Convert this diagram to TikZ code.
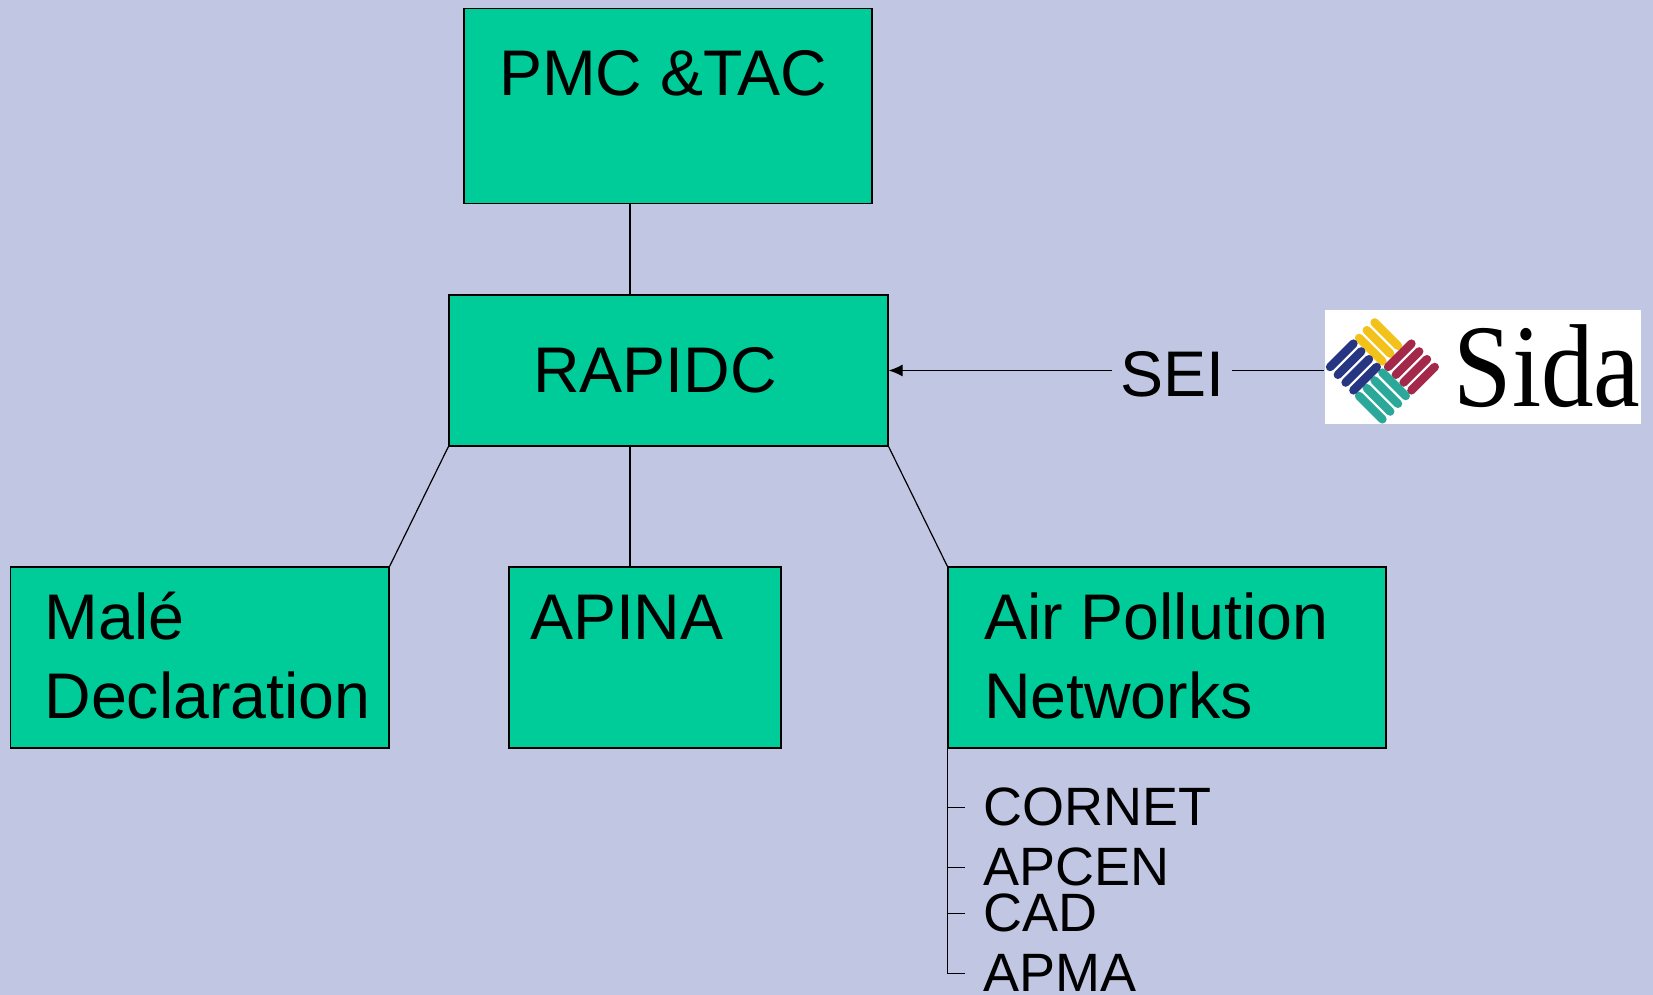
\documentclass[tikz,border=0pt]{standalone}
\usepackage{fontspec}
\usepackage{graphicx}
\setmainfont{Liberation Sans}
\newfontfamily\sidafont{Liberation Serif}
\usetikzlibrary{calc,arrows.meta}
\definecolor{slidebg}{RGB}{193,199,227}
\definecolor{boxgreen}{RGB}{0,204,153}
\definecolor{sidayellow}{RGB}{242,194,27}
\definecolor{sidared}{RGB}{163,40,74}
\definecolor{sidateal}{RGB}{42,169,154}
\definecolor{sidablue}{RGB}{38,54,130}
\tikzset{
  orgbox/.style={draw, fill=boxgreen, line width=1.2pt, inner sep=0},
  boxtext/.style={inner sep=0, anchor=base west, align=left,
    font=\fontsize{64.5}{79}\selectfont},
  listtext/.style={inner xsep=18, inner ysep=0, anchor=base west,
    font=\fontsize{54}{66}\selectfont},
}
\begin{document}
\begin{tikzpicture}[x=1pt, y=1pt, line width=1.2pt]

    \path[use as bounding box, fill=slidebg] (0,0) rectangle (1653,995);

    % boxes
    \node[orgbox, minimum width=408, minimum height=195] (pmc) at (668,889) {};
    \node[orgbox, minimum width=439, minimum height=151] (rapidc) at (668.5,624.5) {};
    \node[orgbox, minimum width=378.5, minimum height=181] (male) at (199.75,337.5) {};
    \node[orgbox, minimum width=272, minimum height=181] (apina) at (645,337.5) {};
    \node[orgbox, minimum width=438, minimum height=181] (apn) at (1167,337.5) {};

    \node[boxtext] (pmctext) at ($(pmc.north west)+(35,-88)$) {PMC \&TAC};
    \node[boxtext] (rapidctext) at ($(rapidc.north west)+(84,-98)$) {RAPIDC};
    \node[boxtext] (maletext) at ($(male.north west)+(34,-152)$) {Malé\\Declaration};
    \node[boxtext] (apinatext) at ($(apina.north west)+(21,-73)$) {APINA};
    \node[boxtext] (apntext) at ($(apn.north west)+(36,-152)$) {Air Pollution\\Networks};

    % tree
    \coordinate (trunk) at (630,0);
    \draw (pmc.south -| trunk) -- (rapidc.north -| trunk);
    \draw (rapidc.south -| trunk) -- (apina.north -| trunk);
    \draw (rapidc.south west) -- (male.north east);
    \draw (rapidc.south east) -- (apn.north west);

    % SEI and Sida
    \node[fill=white, inner sep=0, minimum width=316, minimum height=114] (sida) at (1483,628) {};
    \begin{scope}[shift={(sida.west)}, xshift=58, rotate=-45, line width=8.5pt, line cap=round]
        \foreach \k in {4,15,26} \draw[sidayellow] (-37,\k) -- (-4,\k);
        \foreach \k in {4,15,26,37} \draw[sidared] (\k,4) -- (\k,37);
        \foreach \k in {4,15,26,37} \draw[sidateal] (4,-\k) -- (37,-\k);
        \foreach \k in {4,15,26,37} \draw[sidablue] (-\k,-4) -- (-\k,-37);
    \end{scope}
    \node[inner sep=0, anchor=base west, font=\sidafont\fontsize{118}{130}\selectfont]
        (sidaname) at (1453,588) {\scalebox{0.89}[1]{Sida}};

    \node[inner xsep=7, inner ysep=0, font=\fontsize{64.5}{79}\selectfont] (sei) at (1172,621) {SEI};
    \draw[-{Latex[length=14pt,width=12pt]}] (sei.west |- rapidc.east) -- (rapidc.east);
    \draw (sei.east |- rapidc.east) -- (sida.west |- rapidc.east);

    % networks
    \node[listtext] (cornet) at (965,169) {CORNET};
    \node[listtext] (apcen) at (965,109) {APCEN};
    \node[listtext] (cad) at (965,63) {CAD};
    \node[listtext] (apma) at (965,3) {APMA};
    \draw (apn.south west) |- (apma.west);
    \foreach \n in {cornet,apcen,cad}
        \draw (apn.south west |- \n.west) -- (\n.west);

\end{tikzpicture}
\end{document}
